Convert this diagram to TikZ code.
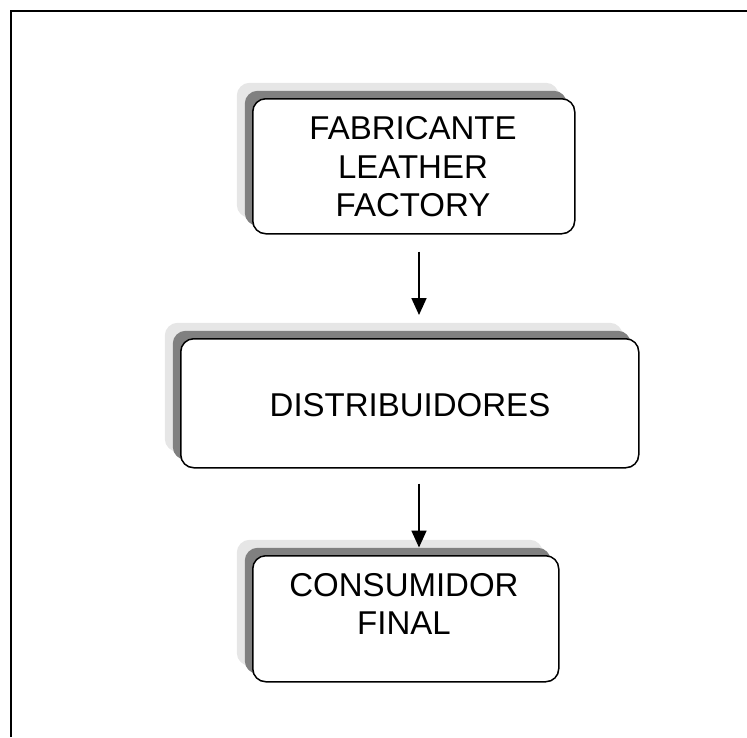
\documentclass[tikz,border=0pt]{standalone}
\usepackage{fontspec}
\setmainfont{Liberation Sans}
\usetikzlibrary{arrows.meta,shadows}
\definecolor{shadowlight}{HTML}{E6E6E6}
\definecolor{shadowdark}{HTML}{808080}
\begin{document}
\begin{tikzpicture}[x=1pt,y=-1pt,
  box/.style={draw=black, line width=1.5pt, fill=white, rounded corners=13pt,
    inner sep=0pt, anchor=north west,
    general shadow={fill=shadowlight, shadow xshift=-16pt, shadow yshift=16pt},
    general shadow={fill=shadowdark, shadow xshift=-8pt, shadow yshift=8pt}},
  label/.style={align=center, inner sep=0pt,
    font=\fontsize{33}{38.5}\selectfont},
  arr/.style={line width=1.8pt, -{Triangle[length=17pt,width=15pt]}}]
  % page area
  \useasboundingbox (0,0) rectangle (747,737);
  % open frame: left and top edges only
  \draw[line width=2.5pt] (11,737) -- (11,11) -- (747,11);

  % boxes with stacked shadows
  \node[box, minimum width=322pt, minimum height=135pt] (b1) at (252,98) {};
  \node[box, minimum width=458pt, minimum height=129pt] (b2) at (180,338) {};
  \node[box, minimum width=306pt, minimum height=126pt] (b3) at (252,555) {};

  % labels
  \node[label] (t1) at (413,167) {FABRICANTE\\LEATHER\\FACTORY};
  \node[label] (t2) at (410,405) {DISTRIBUIDORES};
  \node[label] (t3) at (404,604) {CONSUMIDOR\\FINAL};

  % connectors
  \coordinate (ax) at (419,0);
  \draw[arr, shorten <=17pt, shorten >=23pt] (b1.south -| ax) -- (b2.north -| ax);
  \draw[arr, shorten <=15pt, shorten >=7.5pt] (b2.south -| ax) -- (b3.north -| ax);
\end{tikzpicture}
\end{document}
